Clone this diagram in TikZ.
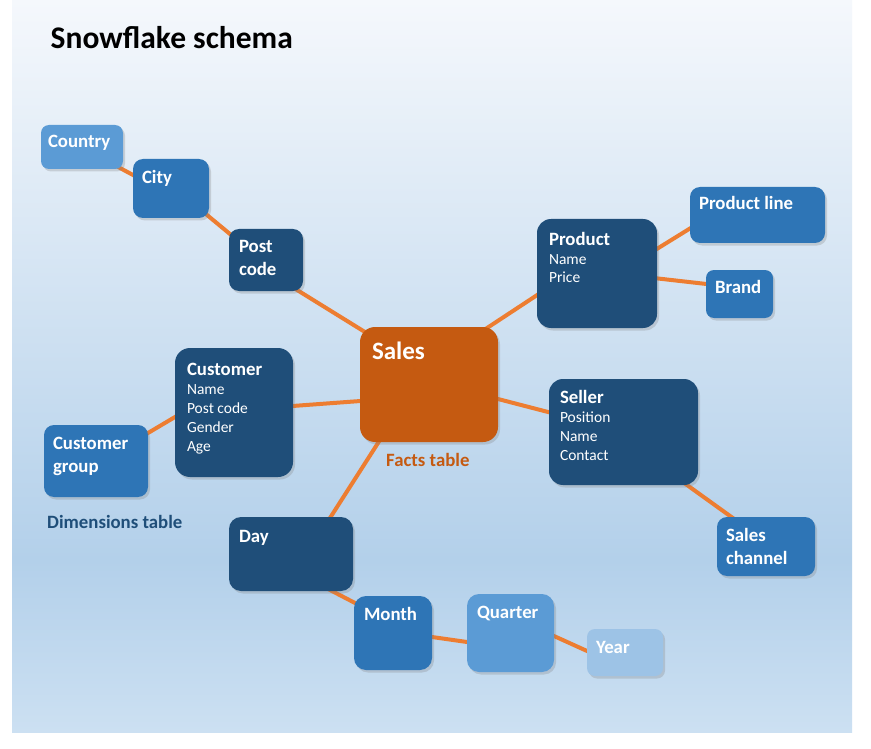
\documentclass[tikz,border=0pt]{standalone}
\usepackage{fontspec}
\setmainfont{Carlito}
\usetikzlibrary{shadows}
\definecolor{dark}{HTML}{1F4E79}
\definecolor{mid}{HTML}{2E75B6}
\definecolor{light}{HTML}{5B9BD5}
\definecolor{pale}{HTML}{9DC3E6}
\definecolor{orbox}{HTML}{C55A11}
\definecolor{conn}{HTML}{ED7D31}
\definecolor{bgT}{HTML}{F5F8FC}
\definecolor{bgM}{HTML}{B3D0EA}
\definecolor{bgB}{HTML}{CCE0F2}
\pgfdeclarelayer{back}
\pgfdeclarelayer{edges}
\pgfsetlayers{back,edges,main}
\pgfdeclareverticalshading{bgshade}{100bp}{color(0bp)=(bgB); color(25bp)=(bgB); color(36.75bp)=(bgM); color(75bp)=(bgT); color(100bp)=(bgT)}
\newcommand\hd{\fontsize{18.8}{23}\selectfont\bfseries}
\newcommand\sbt{\fontsize{15.5}{19}\selectfont\mdseries}
\newcommand\bt[4]{\parbox[c][#2pt][t]{#1pt}{\raggedright\rule{0pt}{#3pt}#4}}
\begin{document}
\begin{tikzpicture}[x=1pt,y=-1pt,
  box/.style={rounded corners=12pt, inner xsep=10pt, inner ysep=0pt, outer sep=0pt,
    anchor=north west, text=white,
    drop shadow={shadow xshift=2pt,shadow yshift=-2.5pt,opacity=0.28}},
  connector/.style={draw=conn, line width=4pt},
  caption/.style={anchor=base west, inner sep=0pt, font=\hd}]
\useasboundingbox (0,0) rectangle (871,749);
\begin{pgfonlayer}{back}
\fill[white] (0,0) rectangle (871,749);
\shade[shading=bgshade] (12,0) rectangle (852,732);
\end{pgfonlayer}

\node[anchor=base west, inner sep=0pt, font=\fontsize{31.5}{38}\selectfont\bfseries] (title) at (50.5,49) {Snowflake schema};

\node[box, fill=light, rounded corners=8pt, inner xsep=7pt] (country) at (41,125) {\bt{68}{44}{23}{\hd Country}};
\node[box, fill=mid, rounded corners=10pt, inner xsep=9pt] (city) at (133,159) {\bt{58}{59}{25}{\hd City}};
\node[box, fill=dark, rounded corners=10pt, inner xsep=10pt] (post) at (229,229) {\bt{54}{62}{23}{\hd Post\par code}};
\node[box, fill=mid, rounded corners=10pt, inner xsep=9pt] (prodline) at (690,187) {\bt{117}{56}{23}{\hd Product line}};
\node[box, fill=dark, rounded corners=14pt, inner xsep=12pt] (product) at (537,219) {\bt{96}{109}{26}{\hd Product\par\sbt Name\par Price}};
\node[box, fill=mid, rounded corners=8pt, inner xsep=9pt] (brand) at (706,270) {\bt{49}{48}{23}{\hd Brand}};
\node[box, fill=orbox, rounded corners=15pt, inner xsep=12pt] (sales) at (360,327) {\bt{114}{115}{32}{\fontsize{25}{30}\selectfont\bfseries Sales}};
\node[box, fill=dark, rounded corners=15pt, inner xsep=12pt] (customer) at (175,348) {\bt{94}{129}{27}{\hd Customer\par\sbt Name\par Post code\par Gender\par Age}};
\node[box, fill=mid, rounded corners=10pt, inner xsep=9pt] (custgroup) at (44,425) {\bt{86}{72}{24}{\hd Customer\par group}};
\node[box, fill=dark, rounded corners=14pt, inner xsep=11pt] (seller) at (549,379) {\bt{127}{106}{24}{\hd Seller\par\sbt Position\par Name\par Contact}};
\node[box, fill=mid, rounded corners=10pt, inner xsep=9pt] (channel) at (717,517) {\bt{80}{59}{24}{\hd Sales\par channel}};
\node[box, fill=dark, rounded corners=12pt, inner xsep=10pt] (day) at (229,517) {\bt{104}{74}{25}{\hd Day}};
\node[box, fill=mid, rounded corners=12pt, inner xsep=10pt] (month) at (354,596) {\bt{58}{74}{24}{\hd Month}};
\node[box, fill=light, rounded corners=12pt, inner xsep=10pt] (quarter) at (467,594) {\bt{67}{78}{24}{\hd Quarter}};
\node[box, fill=pale, rounded corners=8pt, inner xsep=9pt] (year) at (587,629) {\bt{58}{47}{24}{\hd Year}};

\node[caption, text=orbox] (facts) at (386,466) {Facts table};
\node[caption, text=dark] (dims) at (47,528) {Dimensions table};

\begin{pgfonlayer}{edges}
\draw[connector] ([shift={(29.2,16.3)}]country.center) -- ([shift={(-29.2,-8.8)}]city.center);
\draw[connector] ([shift={(28.3,20.1)}]city.center) -- ([shift={(-28.3,-19.6)}]post.center);
\draw[connector] ([shift={(22.5,24.7)}]post.center) -- ([shift={(-55.5,-47.2)}]sales.center);
\draw[connector] ([shift={(49.7,-51)}]sales.center) -- ([shift={(-52.2,16.5)}]product.center);
\draw[connector] ([shift={(52,-19.7)}]product.center) -- ([shift={(-59,8.2)}]prodline.center);
\draw[connector] ([shift={(50.5,3.8)}]product.center) -- ([shift={(-22.5,-8.8)}]brand.center);
\draw[connector] ([shift={(-59,15.8)}]sales.center) -- ([shift={(49,-5.8)}]customer.center);
\draw[connector] ([shift={(-50.4,-0.6)}]customer.center) -- ([shift={(43.4,-22.9)}]custgroup.center);
\draw[connector] ([shift={(59.3,12)}]sales.center) -- ([shift={(-65.8,-17.5)}]seller.center);
\draw[connector] ([shift={(55.4,47.2)}]seller.center) -- ([shift={(-25.8,-23.2)}]channel.center);
\draw[connector] ([shift={(-45.6,50.1)}]sales.center) -- ([shift={(33.6,-27.6)}]day.center);
\draw[connector] ([shift={(32.1,32.4)}]day.center) -- ([shift={(-29.1,-25.4)}]month.center);
\draw[connector] ([shift={(29.1,2.6)}]month.center) -- ([shift={(-33.6,10.4)}]quarter.center);
\draw[connector] ([shift={(34.4,-1.1)}]quarter.center) -- ([shift={(-28.9,2.6)}]year.center);
\end{pgfonlayer}
\end{tikzpicture}
\end{document}
